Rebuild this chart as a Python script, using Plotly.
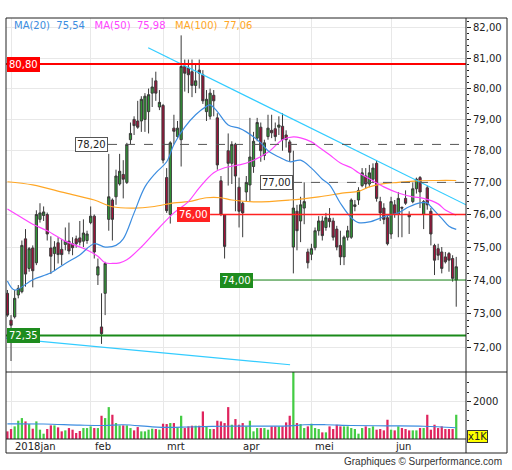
import math
import plotly.graph_objects as go

# --- data (x = trading day index) ---
opens = [73.60, 72.80, 72.90, 73.55, 73.65, 75.25, 74.35, 74.97, 74.52, 75.85,
         75.97, 76.00, 74.97, 74.80, 75.13, 74.93, 75.08, 75.18, 75.10, 75.25,
         75.28, 75.18, 75.20, 75.75, 75.95, 74.15, 72.60, 73.60, 75.85, 76.45,
         76.55, 76.95, 77.25, 77.00, 78.35, 79.00, 78.95, 78.95, 79.00, 79.25,
         79.85, 80.25, 79.40, 79.45, 77.15, 76.00, 78.72, 78.45, 78.35, 80.72,
         80.67, 80.55, 80.10, 80.60, 80.45, 79.25, 79.10, 79.78, 79.05, 77.05,
         76.00, 78.00, 77.60, 78.20, 76.85, 76.35, 76.70, 76.92, 77.50, 78.40,
         78.75, 77.85, 78.45, 78.65, 78.70, 78.75, 78.78, 78.50, 78.28, 75.00,
         76.10, 75.80, 76.20, 74.85, 74.78, 74.98, 75.50, 75.80, 75.60, 75.88,
         75.80, 75.55, 75.05, 74.70, 75.30, 75.30, 76.25, 76.45, 76.90, 77.20,
         76.95, 77.10, 77.60, 76.40, 76.20, 75.90, 75.40, 76.30, 76.00, 76.22,
         76.50, 76.00, 76.40, 76.80, 77.15, 76.00, 76.83, 76.10, 75.05, 74.95,
         74.85, 74.70, 74.80, 74.65, 74.00]
highs = [73.70, 72.95, 73.70, 73.85, 75.20, 75.55, 75.00, 75.05, 76.13, 76.35,
         76.25, 76.06, 75.33, 75.18, 75.30, 75.25, 75.60, 75.75, 75.30, 75.35,
         75.80, 75.85, 75.50, 76.25, 76.00, 74.65, 73.60, 74.55, 77.90, 76.50,
         77.40, 77.90, 77.70, 78.25, 78.90, 79.10, 79.60, 79.75, 79.85, 80.00,
         80.35, 80.55, 79.95, 79.50, 77.45, 78.30, 79.15, 78.95, 81.75, 80.95,
         80.95, 80.95, 80.80, 80.95, 80.60, 79.95, 80.00, 79.95, 79.20, 77.20,
         76.00, 78.55, 78.30, 78.25, 77.15, 76.40, 77.20, 79.05, 78.60, 79.05,
         78.90, 78.35, 79.15, 79.15, 78.90, 79.10, 79.20, 78.65, 78.35, 78.00,
         76.30, 76.55, 77.00, 74.95, 75.10, 75.60, 75.95, 75.95, 76.05, 76.20,
         75.90, 75.65, 75.50, 75.35, 75.65, 76.50, 76.45, 76.85, 77.45, 77.45,
         77.55, 77.60, 77.70, 76.55, 76.35, 76.00, 76.55, 76.45, 76.70, 76.25,
         76.75, 76.10, 77.00, 77.15, 77.20, 76.45, 76.90, 76.20, 75.10, 75.10,
         75.00, 74.85, 74.85, 74.75, 74.70]
lows = [72.90, 71.60, 72.85, 73.45, 73.60, 73.80, 74.25, 73.78, 74.45, 75.75,
        75.80, 75.20, 74.18, 74.28, 74.50, 74.45, 74.90, 74.78, 74.75, 74.98,
        75.05, 75.00, 75.10, 75.70, 74.65, 73.85, 72.10, 72.95, 75.50, 75.20,
        76.30, 76.90, 76.50, 76.95, 78.20, 78.50, 78.70, 78.60, 78.60, 78.55,
        79.40, 79.60, 79.30, 77.60, 76.05, 75.72, 78.20, 78.40, 77.50, 79.90,
        79.85, 79.72, 79.85, 80.00, 79.50, 78.95, 79.00, 79.10, 77.40, 75.95,
        74.65, 76.90, 76.95, 76.10, 75.60, 75.30, 76.40, 76.40, 77.30, 78.30,
        77.65, 77.70, 78.35, 78.40, 78.30, 78.50, 78.00, 78.10, 77.65, 74.20,
        74.90, 75.15, 75.70, 74.35, 74.60, 74.90, 75.35, 75.20, 75.50, 75.60,
        75.20, 74.90, 74.45, 74.45, 75.20, 75.25, 76.10, 76.30, 76.85, 76.80,
        76.85, 77.00, 76.40, 75.80, 75.70, 75.05, 75.25, 75.90, 75.30, 75.30,
        76.30, 75.40, 76.35, 76.65, 76.20, 75.55, 76.15, 75.05, 74.15, 74.60,
        74.20, 74.50, 74.25, 73.95, 73.20]
closes = [72.95, 72.65, 73.45, 73.75, 75.05, 74.18, 74.95, 74.28, 76.00, 76.05,
          76.08, 75.40, 74.72, 75.00, 74.77, 74.77, 75.18, 74.88, 74.98, 75.10,
          75.15, 75.43, 75.40, 75.95, 74.85, 74.40, 72.40, 74.50, 76.55, 75.85,
          77.20, 77.35, 77.10, 78.20, 78.55, 78.80, 78.75, 79.65, 79.75, 79.80,
          80.05, 79.85, 79.55, 77.70, 76.12, 78.25, 78.62, 78.72, 80.72, 80.50,
          80.45, 80.10, 80.25, 80.50, 79.60, 79.65, 79.85, 79.60, 77.55, 76.00,
          75.02, 77.60, 78.20, 77.20, 76.10, 76.05, 77.00, 77.80, 78.30, 78.90,
          78.00, 78.25, 78.72, 78.57, 78.45, 78.82, 78.35, 78.35, 77.95, 76.20,
          75.50, 76.30, 76.40, 74.52, 74.95, 75.50, 75.80, 75.35, 75.90, 75.78,
          75.30, 75.00, 74.70, 75.30, 75.50, 76.45, 76.30, 76.75, 77.30, 76.95,
          77.30, 77.45, 76.50, 76.05, 75.85, 75.10, 76.40, 76.00, 76.50, 76.20,
          76.35, 75.93, 76.80, 77.10, 76.70, 76.40, 76.30, 75.40, 74.60, 74.75,
          74.35, 74.55, 74.60, 74.05, 74.40]
volume = [407, 531, 673, 974, 1115, 938, 797, 549, 938, 496,
          283, 531, 726, 726, 620, 407, 460, 584, 496, 319,
          425, 584, 584, 673, 584, 584, 1239, 1115, 1699, 1292,
          850, 726, 726, 726, 584, 460, 637, 407, 407, 496,
          549, 531, 496, 814, 797, 850, 850, 620, 1239, 584,
          673, 708, 708, 708, 1469, 673, 531, 531, 974, 938,
          850, 1699, 761, 1062, 761, 850, 673, 974, 407, 584,
          584, 584, 496, 673, 673, 673, 673, 885, 1239, 3800,
          850, 797, 584, 673, 814, 584, 531, 354, 354, 673,
          531, 761, 673, 673, 673, 584, 531, 283, 584, 673,
          584, 673, 496, 531, 460, 1027, 496, 460, 673, 584,
          531, 460, 460, 460, 584, 584, 1292, 496, 761, 584,
          673, 531, 531, 531, 1292]
days = list(range(len(closes)))

# moving averages at a few days
ma20_day = [0, 2, 7, 12, 16, 20, 24, 27, 30, 32, 35, 38, 41, 44, 46, 49, 52, 55, 56, 58,
            61, 64, 66, 70, 72, 75, 78, 81, 84, 87, 89, 92, 95, 97, 100, 104, 108, 111,
            114, 116, 117, 120, 122, 124]
ma20_val = [73.97, 73.70, 74.01, 74.22, 74.50, 74.76, 75.10, 75.00, 75.05, 75.25, 76.05,
            76.86, 77.30, 77.65, 78.20, 78.75, 79.15, 79.42, 79.47, 79.25, 78.82, 78.72,
            78.60, 78.25, 78.00, 77.80, 77.65, 77.70, 77.45, 77.10, 76.92, 76.35, 75.90,
            75.75, 75.77, 75.93, 76.05, 76.24, 76.36, 76.36, 76.24, 75.88, 75.64, 75.54]
ma50_day = [0, 4, 7, 11, 16, 22, 25, 27, 29, 31, 33, 37, 42, 46, 50, 53, 57, 60, 64, 67,
            72, 76, 79, 81, 84, 86, 89, 92, 95, 97, 99, 104, 108, 112, 115, 119, 121, 124]
ma50_val = [76.17, 75.90, 75.70, 75.50, 75.18, 74.91, 74.72, 74.52, 74.50, 74.52, 74.61,
            75.00, 75.60, 76.05, 76.40, 76.83, 77.30, 77.46, 77.55, 77.65, 77.95, 78.35,
            78.44, 78.41, 78.28, 78.12, 77.87, 77.61, 77.46, 77.30, 77.18, 76.86, 76.67,
            76.55, 76.50, 76.33, 76.14, 75.98]
ma100_day = [0, 7, 16, 24, 29, 35, 40, 46, 50, 55, 59, 62, 68, 78, 86, 93, 97, 100, 104,
             108, 113, 119, 124]
ma100_val = [77.02, 76.92, 76.67, 76.45, 76.24, 76.20, 76.24, 76.36, 76.40, 76.52, 76.52,
             76.45, 76.39, 76.45, 76.55, 76.67, 76.72, 76.86, 76.96, 77.00, 77.05, 77.06,
             77.06]
vol_ma_day = [0, 10, 20, 27, 32, 40, 45, 50, 60, 70, 78, 82, 88, 95, 105, 115, 124]
vol_ma_val = [810, 800, 740, 720, 760, 650, 620, 640, 680, 690, 700, 760, 760, 720, 700,
              680, 600]

# drawn trend lines and support/resistance levels
trend_upper_day = [38.9, 126.7]
trend_upper_val = [81.34, 76.30]
trend_lower_day = [-0.4, 78.1]
trend_lower_val = [72.27, 71.49]
levels = [80.80, 78.20, 77.00, 76.00, 74.00, 72.35]
level_labels = ['80,80', '78,20', '77,00', '76,00', '74,00', '72,35']

month_start = [1, 23, 43, 64, 84, 106]
month_labels = ['2018jan', 'feb', 'mrt', 'apr', 'mei', 'jun']
price_ticks = list(range(72, 83))

# --- styling / layout helpers ---
FONT = 'DejaVu Sans'
X_END = 126.7
W, H = 512, 470
L, R, T, B = 6, 466, 18, 439
SPLIT = 372
vol_top = (B - SPLIT) / (B - T)


def px(x):
    return (x - L) / (R - L)


def py(y):
    return (B - y) / (B - T)


up_color = '#2f9a35'
down_color = '#a3103a'

fig = go.Figure()

fig.add_trace(go.Candlestick(
    x=days, open=opens, high=highs, low=lows, close=closes,
    increasing=dict(line=dict(color='#3a3a3a', width=1), fillcolor=up_color),
    decreasing=dict(line=dict(color='#3a3a3a', width=1), fillcolor=down_color),
    whiskerwidth=0, xaxis='x', yaxis='y', showlegend=False, hoverinfo='skip'))

for d, v, c in [(ma100_day, ma100_val, '#ffa726'),
                (ma50_day, ma50_val, '#ff44ff'),
                (ma20_day, ma20_val, '#3c8de0')]:
    fig.add_trace(go.Scatter(x=d, y=v, mode='lines', line=dict(color=c, width=1.2, shape='spline'),
                             xaxis='x', yaxis='y', showlegend=False, hoverinfo='skip'))

for d, v in [(trend_upper_day, trend_upper_val), (trend_lower_day, trend_lower_val)]:
    fig.add_trace(go.Scatter(x=d, y=v, mode='lines', line=dict(color='#33ccff', width=1.2),
                             xaxis='x', yaxis='y', showlegend=False, hoverinfo='skip'))

# level lines: (start day, colour, width, dash) ; labels (day, anchor, bg, border, font colour)
level_style = [
    (-0.4, '#ff0000', 2, 'solid', -0.15, 'left', '#ff0000', '#ff0000', 'white'),
    (27.8, '#555555', 1, 'dash', 27.8, 'right', 'white', '#555555', '#222222'),
    (78.9, '#555555', 1, 'dash', 78.9, 'right', 'white', '#555555', '#222222'),
    (56.0, '#ff2222', 1.5, 'solid', 56.0, 'right', '#ff2222', '#ff2222', 'white'),
    (67.85, '#1a8a1a', 1.2, 'solid', 67.85, 'right', '#1e8c1e', '#1e8c1e', 'white'),
    (-0.4, '#1a8a1a', 2, 'solid', -0.15, 'left', '#1e8c1e', '#1e8c1e', 'white'),
]
annotations = []
for lv, lab, st in zip(levels, level_labels, level_style):
    start, lc, lw, dash, ax_, anchor, bg, bc, fc = st
    fig.add_trace(go.Scatter(x=[start, X_END], y=[lv, lv], mode='lines',
                             line=dict(color=lc, width=lw, dash=dash),
                             xaxis='x', yaxis='y', showlegend=False, hoverinfo='skip'))
    annotations.append(dict(x=ax_, y=math.log10(lv), xref='x', yref='y', text=lab,
                            showarrow=False, xanchor=anchor, yanchor='middle',
                            bgcolor=bg, bordercolor=bc, borderwidth=1, borderpad=1,
                            font=dict(family=FONT, size=10, color=fc)))

# volume
vol_colors = ['#44cc44' if c >= o else '#e0245e' for o, c in zip(opens, closes)]
fig.add_trace(go.Bar(x=days, y=volume, marker=dict(color=vol_colors, line=dict(width=0)),
                     width=0.62, xaxis='x2', yaxis='y2', showlegend=False, hoverinfo='skip'))
fig.add_trace(go.Scatter(x=vol_ma_day, y=vol_ma_val, mode='lines',
                         line=dict(color='#3c8de0', width=1.2, shape='spline'),
                         xaxis='x2', yaxis='y2', showlegend=False, hoverinfo='skip'))

# legend text
annotations.append(dict(
    x=px(12), y=py(26), xref='paper', yref='paper', xanchor='left', yanchor='middle',
    showarrow=False, font=dict(family=FONT, size=10),
    text=('<span style="color:#3c8de0">MA(20)&nbsp;&nbsp;75,54</span>&nbsp;&nbsp;&nbsp;'
          '<span style="color:#ff44ff">MA(50)&nbsp;&nbsp;75,98</span>&nbsp;&nbsp;&nbsp;'
          '<span style="color:#ffa726">MA(100)&nbsp;&nbsp;77,06</span>')))

for m, lab in zip(month_start, month_labels):
    annotations.append(dict(x=m, y=py(446), xref='x', yref='paper', text=lab,
                            showarrow=False, xanchor='left', yanchor='middle', xshift=2,
                            font=dict(family=FONT, size=10, color='#222222')))

annotations.append(dict(x=px(467), y=py(436), xref='paper', yref='paper', text='x1K',
                        showarrow=False, xanchor='left', yanchor='middle',
                        bgcolor='#ffff00', bordercolor='#333333', borderwidth=1, borderpad=0,
                        font=dict(family=FONT, size=10, color='#222222')))
annotations.append(dict(x=px(504), y=py(461), xref='paper', yref='paper',
                        text='Graphiques © Surperformance.com', showarrow=False,
                        xanchor='right', yanchor='middle',
                        font=dict(family='Liberation Sans', size=10, color='#333333')))

frame = dict(color='#222222', width=1)
shapes = [
    dict(type='rect', xref='paper', yref='paper', x0=px(6), x1=px(507), y0=py(18), y1=py(453), line=frame),
    dict(type='line', xref='paper', yref='paper', x0=px(6), x1=px(507), y0=py(SPLIT), y1=py(SPLIT), line=frame),
    dict(type='line', xref='paper', yref='paper', x0=px(6), x1=px(466), y0=py(439), y1=py(439), line=frame),
    dict(type='line', xref='paper', yref='paper', x0=px(466), x1=px(466), y0=py(18), y1=py(453), line=frame),
]

minor_price = [round(72 + 0.2 * k, 2) for k in range(0, 52) if (k % 5) != 0]
grid = '#e8e8e8'
tickfont = dict(family=FONT, size=10, color='#222222')

fig.update_layout(
    width=W, height=H,
    margin=dict(l=L, r=W - R, t=T, b=H - B),
    paper_bgcolor='white', plot_bgcolor='white',
    boxgap=0.12,
    annotations=annotations, shapes=shapes,
    xaxis=dict(domain=[0, 1], anchor='y', range=[-0.39, X_END], tickvals=month_start,
               showticklabels=False, showgrid=True, gridcolor=grid, zeroline=False,
               showline=False, ticks='', rangeslider=dict(visible=False), fixedrange=True),
    yaxis=dict(domain=[vol_top, 1], anchor='x', type='log', side='right',
               range=[math.log10(71.28), math.log10(82.33)],
               tickvals=price_ticks, ticktext=['%d,00' % v for v in price_ticks],
               ticks='outside', ticklen=4, tickcolor='#222222', tickfont=tickfont,
               minor=dict(tickvals=minor_price, ticks='outside', ticklen=2, tickcolor='#222222',
                          showgrid=False),
               showgrid=True, gridcolor=grid, zeroline=False, showline=False),
    xaxis2=dict(domain=[0, 1], anchor='y2', matches='x', tickvals=month_start,
                showticklabels=False, showgrid=True, gridcolor=grid, zeroline=False,
                showline=False, ticks=''),
    yaxis2=dict(domain=[0, vol_top], anchor='x2', side='right', range=[0, 3570],
                tickvals=[2000], ticktext=['2000'], ticks='outside', ticklen=4,
                tickcolor='#222222', tickfont=tickfont,
                minor=dict(tickvals=[1000, 1500, 2500, 3000], ticks='outside', ticklen=2,
                           tickcolor='#222222', showgrid=False),
                showgrid=True, gridcolor=grid, zeroline=False, showline=False),
)

# the page body has a default 8px margin; drop it so the figure sits at the window corner
fig.write_html("out.html", config={'displayModeBar': False},
               post_script="document.body.style.margin='0';")
